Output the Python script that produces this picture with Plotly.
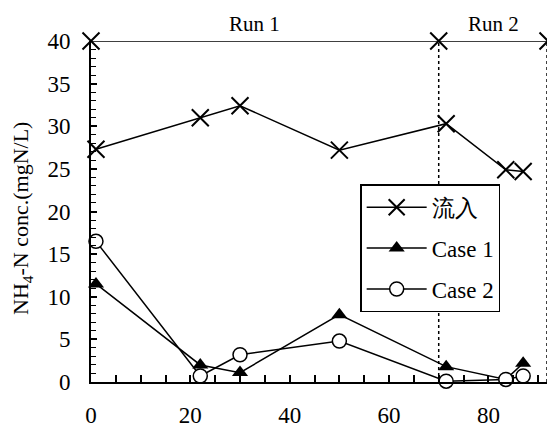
import plotly.graph_objects as go

# Data
days = [1, 22, 30, 50, 71.5, 83.5, 87]
influent = [27.3, 31.0, 32.4, 27.2, 30.3, 24.9, 24.7]
case1 = [11.5, 2.0, 1.1, 7.9, 1.8, 0.3, 2.2]
case2 = [16.5, 0.7, 3.2, 4.8, 0.1, 0.3, 0.7]

run_x = [0, 70, 92]
run_y = [40, 40, 40]
run_labels = ["Run 1", "Run 2"]
run_label_x = [33, 81]
divider_x = [70, 91.8]

FONT = "Liberation Serif"

fig = go.Figure()

# Run bar at top
fig.add_trace(go.Scatter(
    x=run_x, y=run_y, mode="lines+markers", showlegend=False,
    line=dict(color="black", width=1.5),
    marker=dict(symbol="x-thin-open", size=17, line=dict(color="black", width=2)),
    cliponaxis=False, hoverinfo="skip"))

# dotted dividers
for dx in divider_x:
    fig.add_trace(go.Scatter(
        x=[dx, dx], y=[0, 40], mode="lines", showlegend=False,
        line=dict(color="black", width=1.5, dash="dot"), hoverinfo="skip",
        cliponaxis=False))

fig.add_trace(go.Scatter(
    x=days, y=influent, mode="lines+markers", name="流入", legendgroup="a",
    line=dict(color="black", width=1.5),
    marker=dict(symbol="x-thin-open", size=17, line=dict(color="black", width=2)),
    cliponaxis=False))
fig.add_trace(go.Scatter(
    x=days, y=case1, mode="lines+markers", name="Case 1", legendgroup="b",
    line=dict(color="black", width=1.5),
    marker=dict(symbol="triangle-up", size=14, color="black"),
    cliponaxis=False))
fig.add_trace(go.Scatter(
    x=days, y=case2, mode="lines+markers", name="Case 2", legendgroup="c",
    line=dict(color="black", width=1.5),
    marker=dict(symbol="circle", size=14, color="white", line=dict(color="black", width=1.5)),
    cliponaxis=False))

for lbl, lx in zip(run_labels, run_label_x):
    fig.add_annotation(x=lx, y=40, text=lbl, showarrow=False, yanchor="bottom",
                       yshift=3, font=dict(family=FONT, size=21, color="black"))

# y-axis title as annotation for exact placement
fig.add_annotation(xref="paper", yref="paper", x=-69 / 457, y=0.478, xanchor="center",
                   yanchor="middle", textangle=-90, showarrow=False,
                   text="NH<sub>4</sub>-N conc.(mgN/L)",
                   font=dict(family=FONT, size=22, color="black"))

# page body has an 8px default margin, so the figure is sized to fit inside the window
fig.update_layout(
    width=547, height=419,
    margin=dict(l=83, r=7, t=33, b=45, autoexpand=False),
    paper_bgcolor="white", plot_bgcolor="white",
    font=dict(family=FONT, size=21, color="black"),
    legend=dict(x=0.589, y=0.58, xanchor="left", yanchor="top",
                bgcolor="white", bordercolor="black", borderwidth=1.5,
                font=dict(family=FONT, size=23, color="black"),
                itemwidth=60, traceorder="grouped", tracegroupgap=8),
    showlegend=True,
)
fig.update_xaxes(range=[0, 92], showgrid=False, zeroline=False,
                 showline=True, linecolor="black", linewidth=2,
                 ticks="inside", ticklen=7, tickwidth=1.5, tickcolor="black",
                 dtick=20, tick0=0, ticklabelstandoff=11,
                 minor=dict(dtick=5, ticks="inside", ticklen=7, tickwidth=1.5, tickcolor="black"),
                 tickfont=dict(family=FONT, size=23))
fig.update_yaxes(range=[0, 40], showgrid=False, zeroline=False,
                 showline=True, linecolor="black", linewidth=2,
                 ticks="inside", ticklen=6, tickwidth=1.5, tickcolor="black",
                 dtick=5, tick0=0, ticklabelstandoff=14,
                 minor=dict(dtick=1, ticks="inside", ticklen=5, tickwidth=1.2, tickcolor="black"),
                 tickfont=dict(family=FONT, size=23))

fig.write_html("out.html")
